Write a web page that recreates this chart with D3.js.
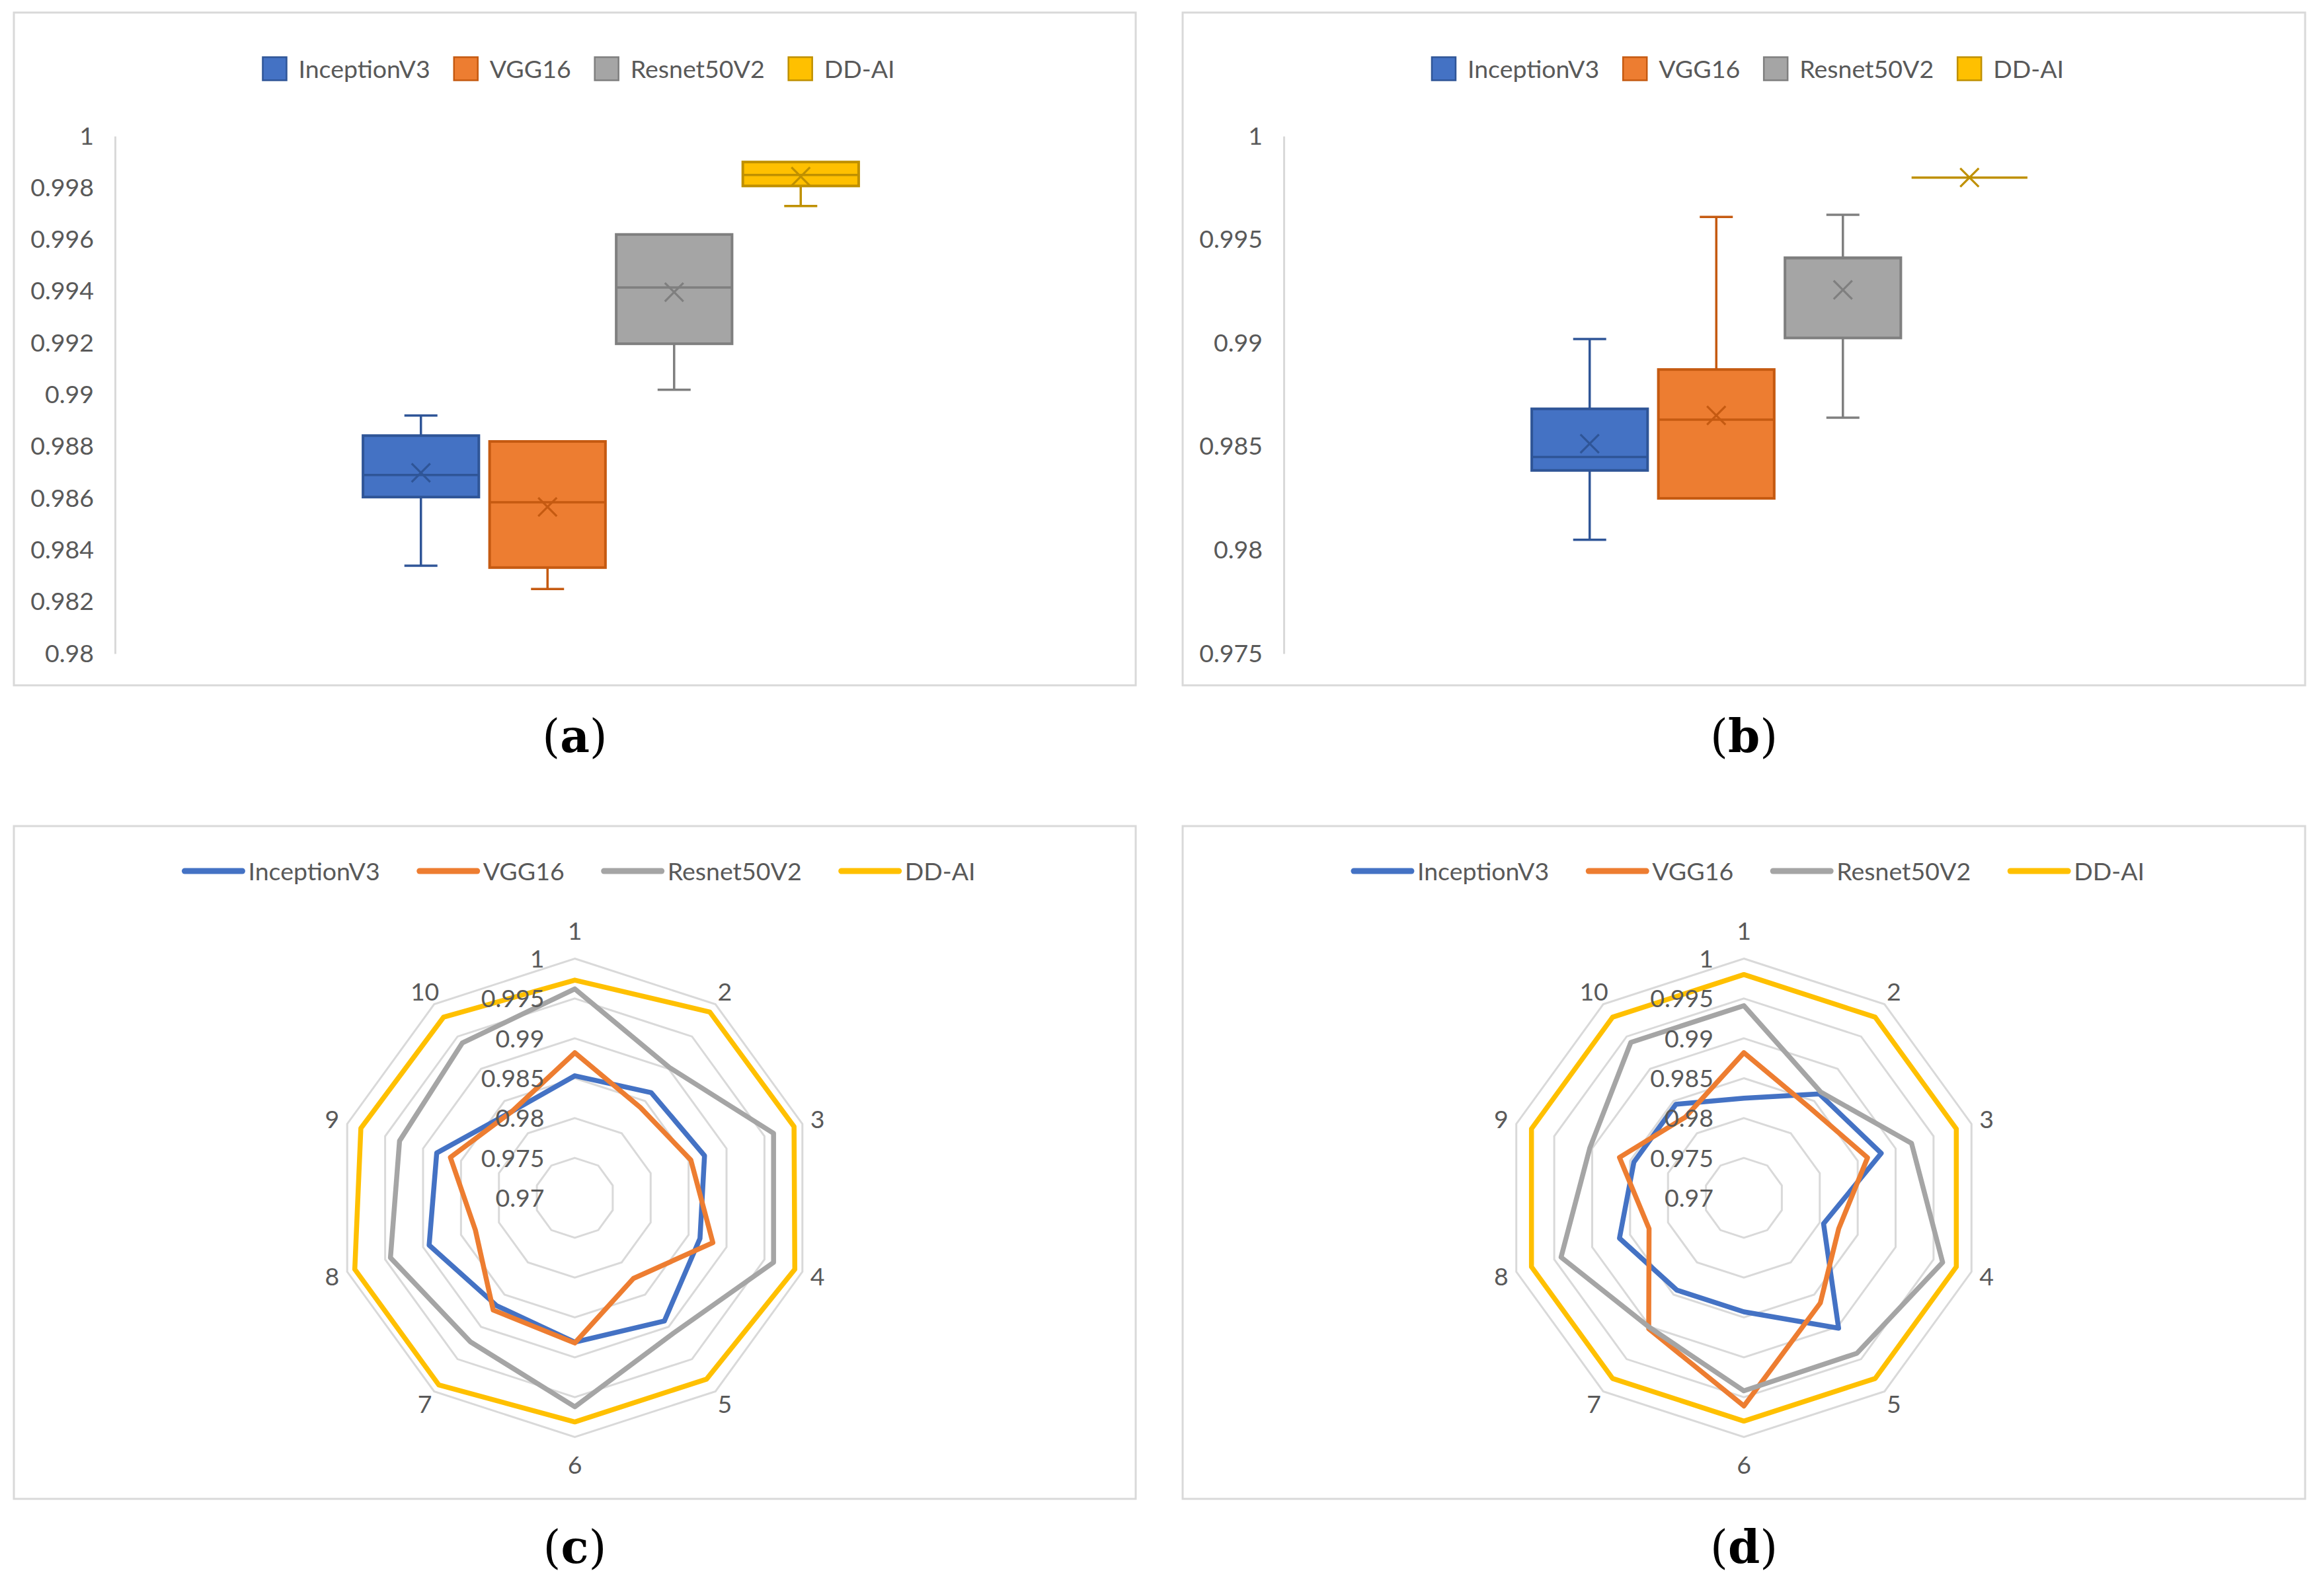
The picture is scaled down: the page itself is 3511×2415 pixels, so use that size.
<!DOCTYPE html>
<html><head><meta charset="utf-8">
<script src="https://cdn.jsdelivr.net/npm/d3@7"></script>
<style>html,body{margin:0;padding:0;background:#fff;} svg{display:block;}</style>
</head><body>
<svg id="chart" width="3511" height="2415"></svg>
<script>
// ---------------- DATA ----------------
const seriesNames = ["InceptionV3", "VGG16", "Resnet50V2", "DD-AI"];
const spokeLabels = ["1","2","3","4","5","6","7","8","9","10"];

// Panel (c) radar values (also summarised by the box plot in panel (a))
const inceptionC = [0.9853, 0.9863, 0.9871, 0.9865, 0.9891, 0.9881, 0.9867, 0.9892, 0.9882, 0.9834];
const vgg16C     = [0.9882, 0.9840, 0.9853, 0.9882, 0.9825, 0.9882, 0.9874, 0.9831, 0.9864, 0.9834];
const resnetC    = [0.9962, 0.9902, 0.9962, 0.9962, 0.9910, 0.9962, 0.9923, 0.9943, 0.9931, 0.9940];
const ddaiC      = [0.9973, 0.9988, 0.9989, 0.9990, 0.9981, 0.9981, 0.9990, 0.9990, 0.9982, 0.9980];

// Panel (d) radar values (also summarised by the box plot in panel (b))
const inceptionD = [0.9825, 0.9861, 0.9881, 0.9805, 0.9902, 0.9843, 0.9843, 0.9864, 0.9845, 0.9845];
const vgg16D     = [0.9882, 0.9840, 0.9863, 0.9825, 0.9863, 0.9961, 0.9903, 0.9825, 0.9864, 0.9825];
const resnetD    = [0.9941, 0.9864, 0.9921, 0.9962, 0.9941, 0.9942, 0.9901, 0.9941, 0.9903, 0.9941];
const ddaiD      = [0.9980, 0.9980, 0.9980, 0.9980, 0.9980, 0.9980, 0.9980, 0.9980, 0.9980, 0.9980];

const boxTicksA  = ["0.98","0.982","0.984","0.986","0.988","0.99","0.992","0.994","0.996","0.998","1"];
const boxTicksB  = ["0.975","0.98","0.985","0.99","0.995","1"];
const radarTicks = ["0.97","0.975","0.98","0.985","0.99","0.995","1"];
const captionLetters = ["a","b","c","d"];

// ---------------- STYLE ----------------
const fills   = ["#4472C4", "#ED7D31", "#A5A5A5", "#FFC000"];
const strokes = ["#2F5597", "#C55A11", "#7F7F7F", "#BF9000"];
const FONT = "Lato, 'Open Sans', sans-serif";
const TXT = "#595959";
const FS = 37.5;

const svg = d3.select("#chart");
svg.append("rect").attr("width", 3511).attr("height", 2415).attr("fill", "#fff");

const panels = [
  {x: 21,   y: 19,   w: 1697, h: 1018},
  {x: 1789, y: 19,   w: 1698, h: 1018},
  {x: 21,   y: 1250, w: 1697, h: 1018},
  {x: 1789, y: 1250, w: 1698, h: 1018}
];

function frame(p) {
  svg.append("rect").attr("x", p.x).attr("y", p.y).attr("width", p.w).attr("height", p.h)
    .attr("fill", "#fff").attr("stroke", "#d9d9d9").attr("stroke-width", 3);
}

function legend(p, kind) {
  const g = svg.append("g");
  const cy = kind === "box" ? p.y + 85 : p.y + 68;
  const items = seriesNames.map((name, i) => {
    const ig = g.append("g");
    if (kind === "box") {
      ig.append("rect").attr("x", 0).attr("y", cy - 17.5).attr("width", 36).attr("height", 35)
        .attr("fill", fills[i]).attr("stroke", strokes[i]).attr("stroke-width", 2.5);
    } else {
      ig.append("line").attr("x1", 4).attr("x2", 91).attr("y1", cy).attr("y2", cy)
        .attr("stroke", fills[i]).attr("stroke-width", 9).attr("stroke-linecap", "round");
    }
    const tx = kind === "box" ? 54 : 100;
    const t = ig.append("text").attr("x", tx).attr("y", cy).attr("dy", "0.36em")
      .attr("font-family", FONT).attr("font-size", FS).attr("fill", TXT).text(name);
    const w = tx + t.node().getComputedTextLength();
    return {ig, w};
  });
  const gap = kind === "box" ? 36 : 56;
  const total = d3.sum(items, d => d.w) + gap * (items.length - 1);
  let cur = p.x + p.w / 2 + 6 - total / 2;
  items.forEach(it => { it.ig.attr("transform", `translate(${cur},0)`); cur += it.w + gap; });
}

function quantileExc(sorted, q) {
  const n = sorted.length, h = (n + 1) * q, lo = Math.floor(h);
  if (lo < 1) return sorted[0];
  if (lo >= n) return sorted[n - 1];
  return sorted[lo - 1] + (h - lo) * (sorted[lo] - sorted[lo - 1]);
}
function stats(values) {
  const s = values.slice().sort(d3.ascending);
  return {min: s[0], max: s[s.length - 1], q1: quantileExc(s, 0.25), q3: quantileExc(s, 0.75),
          med: d3.median(s), mean: d3.mean(s)};
}

function boxPanel(p, datasets, ticks) {
  frame(p);
  legend(p, "box");
  const tv = ticks.map(Number);
  const y = d3.scaleLinear().domain([tv[0], tv[tv.length - 1]]).range([p.y + 970, p.y + 187]);
  const axX = p.x + 153;
  const ax = svg.append("g").attr("transform", `translate(${axX},0)`)
    .call(d3.axisLeft(y).tickValues(tv).tickSize(0).tickPadding(32).tickFormat((d, i) => ticks[i]));
  ax.select(".domain").attr("stroke", "#d9d9d9").attr("stroke-width", 3);
  ax.selectAll(".tick text").attr("font-family", FONT).attr("font-size", FS).attr("fill", TXT);

  const xCat = d3.scaleBand().domain(["1"]).range([axX, p.x + 1653]).paddingOuter(0.479).paddingInner(0);
  const xs = d3.scaleBand().domain(seriesNames).range([xCat("1"), xCat("1") + xCat.bandwidth()])
    .paddingInner(0.085).paddingOuter(0.0425);
  const bw = xs.bandwidth();

  datasets.forEach((vals, i) => {
    const s = stats(vals);
    const cx = xs(seriesNames[i]) + bw / 2;
    const g = svg.append("g");
    const st = strokes[i];
    const wh = [[s.min, s.q1], [s.q3, s.max]];
    wh.forEach(([a, b]) => {
      if (Math.abs(y(a) - y(b)) < 1) return;
      g.append("line").attr("x1", cx).attr("x2", cx).attr("y1", y(a)).attr("y2", y(b))
        .attr("stroke", st).attr("stroke-width", 3.5);
    });
    if (Math.abs(y(s.min) - y(s.q1)) >= 1)
      g.append("line").attr("x1", cx - 25).attr("x2", cx + 25).attr("y1", y(s.min)).attr("y2", y(s.min))
        .attr("stroke", st).attr("stroke-width", 3.5);
    if (Math.abs(y(s.max) - y(s.q3)) >= 1)
      g.append("line").attr("x1", cx - 25).attr("x2", cx + 25).attr("y1", y(s.max)).attr("y2", y(s.max))
        .attr("stroke", st).attr("stroke-width", 3.5);
    g.append("rect").attr("x", cx - bw / 2).attr("width", bw)
      .attr("y", y(s.q3)).attr("height", Math.max(0, y(s.q1) - y(s.q3)))
      .attr("fill", fills[i]).attr("stroke", st).attr("stroke-width", 4);
    g.append("line").attr("x1", cx - bw / 2).attr("x2", cx + bw / 2).attr("y1", y(s.med)).attr("y2", y(s.med))
      .attr("stroke", st).attr("stroke-width", 3.5);
    const m = 14, my = y(s.mean);
    g.append("path").attr("d", `M${cx - m},${my - m}L${cx + m},${my + m}M${cx - m},${my + m}L${cx + m},${my - m}`)
      .attr("stroke", st).attr("stroke-width", 3.2).attr("fill", "none");
  });
}

function radarPanel(p, datasets) {
  frame(p);
  legend(p, "line");
  const cx = p.x + p.w / 2, cy = p.y + 562.5;
  const tv = radarTicks.map(Number);
  const r = d3.scaleLinear().domain([tv[0], tv[tv.length - 1]]).range([0, 362]);
  const n = spokeLabels.length;
  const ang = i => i * 2 * Math.PI / n;
  const g = svg.append("g").attr("transform", `translate(${cx},${cy})`);
  const radial = d3.lineRadial().angle((d, i) => ang(i)).radius(d => r(d)).curve(d3.curveLinearClosed);
  tv.slice(1).forEach(t => {
    g.append("path").attr("d", radial(spokeLabels.map(() => t)))
      .attr("fill", "none").attr("stroke", "#d9d9d9").attr("stroke-width", 3);
  });
  datasets.forEach((vals, i) => {
    g.append("path").attr("d", radial(vals)).attr("fill", "none")
      .attr("stroke", fills[i]).attr("stroke-width", 7.5).attr("stroke-linejoin", "round");
  });
  spokeLabels.forEach((lab, i) => {
    const a = ang(i);
    const rr = r.range()[1] + 24 + (Math.abs(Math.cos(a)) > 0.95 ? 18 : 0);
    g.append("text").attr("x", rr * Math.sin(a)).attr("y", -rr * Math.cos(a)).attr("dy", "0.36em")
      .attr("text-anchor", "middle").attr("font-family", FONT).attr("font-size", FS).attr("fill", TXT).text(lab);
  });
  radarTicks.forEach((lab, i) => {
    g.append("text").attr("x", -46).attr("y", -r(tv[i])).attr("dy", "0.36em")
      .attr("text-anchor", "end").attr("font-family", FONT).attr("font-size", FS).attr("fill", TXT).text(lab);
  });
}

boxPanel(panels[0], [inceptionC, vgg16C, resnetC, ddaiC], boxTicksA);
boxPanel(panels[1], [inceptionD, vgg16D, resnetD, ddaiD], boxTicksB);
radarPanel(panels[2], [inceptionC, vgg16C, resnetC, ddaiC]);
radarPanel(panels[3], [inceptionD, vgg16D, resnetD, ddaiD]);

panels.forEach((p, i) => {
  const t = svg.append("text").attr("x", p.x + p.w / 2).attr("y", p.y + p.h + (i < 2 ? 101 : 97))
    .attr("text-anchor", "middle").attr("font-family", "'DejaVu Serif', 'Liberation Serif', serif")
    .attr("font-size", 69).attr("fill", "#000");
  t.append("tspan").text("(");
  t.append("tspan").attr("font-weight", "bold").text(captionLetters[i]);
  t.append("tspan").text(")");
});
</script>
</body></html>
